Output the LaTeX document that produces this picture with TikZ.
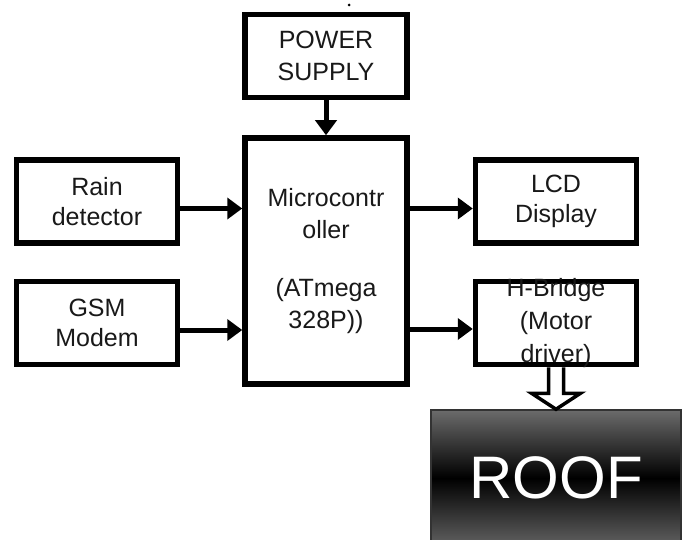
\documentclass[tikz,border=0pt]{standalone}
\usepackage{fontspec}
\setmainfont{Liberation Sans}
\usetikzlibrary{positioning,arrows.meta,calc}
\tikzset{
  node-block/.style={draw=black,line width=5.5bp,fill=white,minimum width=161bp,
    minimum height=83bp,align=center,inner sep=0pt,text=black!90,
    font=\fontsize{25bp}{30bp}\selectfont},
  node-roof/.style={draw=black!80,line width=1.5bp,minimum width=250bp,
    minimum height=136bp,top color=black!58,bottom color=black!62,middle color=black,
    text=white,font=\fontsize{60bp}{60bp}\selectfont},
  node-dot/.style={circle,fill=black,inner sep=0pt,minimum size=3bp},
  arrow/.style={-{Triangle[length=15bp,width=21bp]},line width=5bp,draw=black},
  arrow-hollow/.style={draw=black,line width=3.5bp,fill=white,line join=miter},
}
\begin{document}
\begin{tikzpicture}[x=1bp,y=-1bp]
  \useasboundingbox (0,0) rectangle (690,540);
  \node[node-block,minimum width=162bp,minimum height=246bp,
    font=\fontsize{25bp}{32bp}\selectfont] (micro) at (326,261)
    {Microcontr\\oller\\[26bp](ATmega\\328P))};
  \node[node-block,above=35bp of micro,minimum width=162bp,
    font=\fontsize{25bp}{32bp}\selectfont] (power) {POWER\\SUPPLY};
  \node[node-block,below left=22bp and 62bp of micro.north west] (rain) {Rain\\detector};
  \node[node-block,below=33bp of rain]                          (gsm)  {GSM\\Modem};
  \node[node-block,below right=22bp and 63bp of micro.north east] (lcd) {LCD\\Display};
  \node[node-block,below=33bp of lcd,
    label={[align=center,text=black!90,font=\fontsize{25bp}{33bp}\selectfont]center:H-Bridge\\(Motor\\driver)}] (hb) {};
  \node[node-roof,below=42bp of hb] (roof) {ROOF};
  \node[node-dot] (dot) at (349,5) {};
  \draw[arrow] (power) -- (micro);
  \draw[arrow] ($(rain.east)+(0,7)$) -- ($(rain.east -| micro.west)+(0,7)$);
  \draw[arrow] ($(gsm.east)+(0,7)$)  -- ($(gsm.east -| micro.west)+(0,7)$);
  \draw[arrow] ($(micro.east |- lcd.west)+(0,7)$) -- ($(lcd.west)+(0,7)$);
  \draw[arrow] ($(micro.east |- hb.west)+(0,6)$)  -- ($(hb.west)+(0,6)$);
  % hollow arrow to the roof
  \draw[arrow-hollow] ($(hb.south)+(-7.5,0)$) -- ++(0,26) -- ++(-17,0)
    -- (roof.north) -- ($(hb.south)+(24.5,26)$) -- ++(-17,0) -- ++(0,-26);
\end{tikzpicture}
\end{document}
